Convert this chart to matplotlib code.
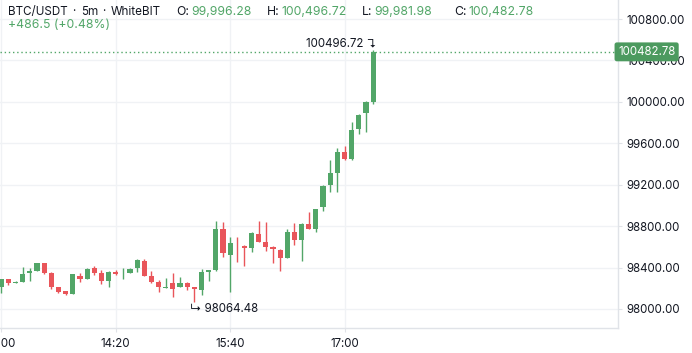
import math
import matplotlib
matplotlib.use("Agg")
import matplotlib.pyplot as plt
from matplotlib.patches import Rectangle
import matplotlib.transforms as mtrans

plt.rcParams['font.family'] = ['Inter', 'DejaVu Sans']

# ---- data (5m candles, 13:00 -> 17:20) ----
opens = [98210, 98287, 98255, 98264, 98345, 98370, 98444, 98351, 98210, 98174,
         98148, 98319, 98293, 98399, 98351, 98270, 98360, 98345, 98351, 98393,
         98464, 98322, 98264, 98205, 98254, 98215, 98248, 98210, 98184, 98357,
         98372, 98772, 98524, 98630, 98608, 98592, 98724, 98647, 98599, 98570,
         98495, 98744, 98666, 98824, 98772, 98980, 99197, 99316, 99513, 99445,
         99735, 99889, 99996.28]
highs = [98290, 98292, 98273, 98403, 98393, 98448, 98448, 98355, 98215, 98178,
         98340, 98345, 98399, 98415, 98377, 98365, 98377, 98393, 98399, 98486,
         98480, 98367, 98280, 98297, 98345, 98306, 98264, 98215, 98386, 98380,
         98850, 98840, 98692, 98692, 98615, 98746, 98850, 98840, 98605, 98575,
         98772, 98827, 98830, 98941, 98970, 99195, 99439, 99552, 99574, 99803,
         99878, 100005, 100496.72]
lows = [98152, 98229, 98248, 98260, 98273, 98366, 98340, 98196, 98157, 98138,
        98145, 98264, 98288, 98328, 98239, 98215, 98328, 98287, 98345, 98360,
        98318, 98248, 98167, 98205, 98119, 98212, 98184, 98064.48, 98135, 98273,
        98365, 98505, 98167, 98457, 98415, 98553, 98645, 98563, 98447, 98370,
        98490, 98618, 98466, 98770, 98741, 98946, 99133, 99133, 99439, 99440,
        99690, 99712, 99981.98]
closes = [98287, 98254, 98264, 98338, 98367, 98444, 98345, 98210, 98167, 98142,
          98335, 98290, 98386, 98345, 98270, 98360, 98338, 98350, 98386, 98476,
          98322, 98258, 98215, 98215, 98193, 98254, 98215, 98190, 98357, 98377,
          98772, 98538, 98640, 98625, 98592, 98737, 98650, 98602, 98576, 98495,
          98746, 98666, 98824, 98772, 98965, 99191, 99310, 99519, 99445, 99728,
          99873, 100001, 100482.78]

x_tick_pos = [0, 16, 32, 48]
x_tick_labels = ["13:00", "14:20", "15:40", "17:00"]
y_ticks = [98000, 98400, 98800, 99200, 99600, 100000, 100400, 100800]

GREEN = "#52a668"
RED = "#e9555a"
TEXT = "#131722"
GRID = "#f0f2f5"
SPINE = "#e0e3e8"

W, H = 692, 353
fig = plt.figure(figsize=(W / 100, H / 100), dpi=100)
ax = fig.add_axes([0, (H - 328) / H, 618 / W, 328 / H])

px_per_unit = 290 / 2800.0
ytop = 100800 + 19 / px_per_unit
ybot = 98000 - (328 - 309) / px_per_unit
ax.set_ylim(ybot, ytop)
dx = 7.15
x0 = 1.3
ax.set_xlim(-x0 / dx, (618 - x0) / dx)

bw = 0.72
for i, (o, h, l, c) in enumerate(zip(opens, highs, lows, closes)):
    col = GREEN if c >= o else RED
    ax.vlines(i, l, h, color=col, linewidth=1.0, zorder=3)
    lo, hi = min(o, c), max(o, c)
    ax.add_patch(Rectangle((i - bw / 2, lo), bw, max(hi - lo, 6),
                           facecolor=col, edgecolor='none', zorder=4))

# grid & axes styling
ax.set_yticks(y_ticks)
ax.set_yticklabels([f"{v:.2f}" for v in y_ticks])
ax.set_xticks(x_tick_pos)
ax.set_xticklabels(x_tick_labels)
ax.yaxis.tick_right()
ax.grid(True, color=GRID, linewidth=1.0, zorder=0)
for s in ['top', 'left']:
    ax.spines[s].set_visible(False)
for s in ['right', 'bottom']:
    ax.spines[s].set_color(SPINE)
    ax.spines[s].set_linewidth(1.0)
ax.tick_params(axis='y', colors=SPINE, labelcolor=TEXT, labelsize=8.3, length=3, pad=3)
ax.tick_params(axis='x', colors=SPINE, labelcolor=TEXT, labelsize=8.3, length=3, pad=4)

# last price line and label
last = closes[-1]
ax.axhline(last, color=GREEN, linestyle=(0, (1, 2)), linewidth=1.0, zorder=2)
trans = mtrans.blended_transform_factory(ax.transAxes, ax.transData)
ax.text(1.0, last, f"{last:.2f}", transform=trans, ha='left', va='center',
        fontsize=8.3, color='white', clip_on=False, zorder=10,
        bbox=dict(boxstyle='round,pad=0.3,rounding_size=0.2', facecolor='#4c9a5f',
                  edgecolor='none'))

# high / low annotations
hi_i = len(highs) - 1
ax.annotate(f"{highs[hi_i]:.2f} \u21b4", xy=(hi_i, highs[hi_i]), xytext=(3, 7),
            textcoords='offset pixels', ha='right', va='center', fontsize=8.3,
            color=TEXT, family=['Inter', 'DejaVu Sans'])
lo_i = lows.index(min(lows))
ax.annotate(f"\u21b3 {lows[lo_i]:.2f}", xy=(lo_i, lows[lo_i]), xytext=(-4, -7),
            textcoords='offset pixels', ha='left', va='center', fontsize=8.3,
            color=TEXT, family=['Inter', 'DejaVu Sans'])

# header
def ft(xp, yp, s, color=TEXT, size=8.8, ha='left'):
    fig.text(xp / W, 1 - yp / H, s, ha=ha, va='center', fontsize=size, color=color)

ft(8, 12, "BTC/USDT", size=8.4)
ft(73.5, 12, "\u00b7", ha='center', size=8.4)
ft(81, 12, "5m", size=8.4)
ft(104, 12, "\u00b7", ha='center', size=8.4)
ft(111, 12, "WhiteBIT", size=8.4)
ft(176, 12, "O:")
ft(191, 12, f"{opens[-1]:,.2f}", GREEN)
ft(267, 12, "H:")
ft(281, 12, f"{highs[-1]:,.2f}", GREEN)
ft(362, 12, "L:")
ft(374, 12, f"{lows[-1]:,.2f}", GREEN)
ft(454, 12, "C:")
ft(468, 12, f"{closes[-1]:,.2f}", GREEN)
chg = closes[-1] - opens[-1]
pct = math.floor(chg / opens[-1] * 10000) / 100
ft(8, 25, f"+{chg:.1f} (+{pct:.2f}%)", GREEN)

fig.savefig("out.png", dpi=100)
